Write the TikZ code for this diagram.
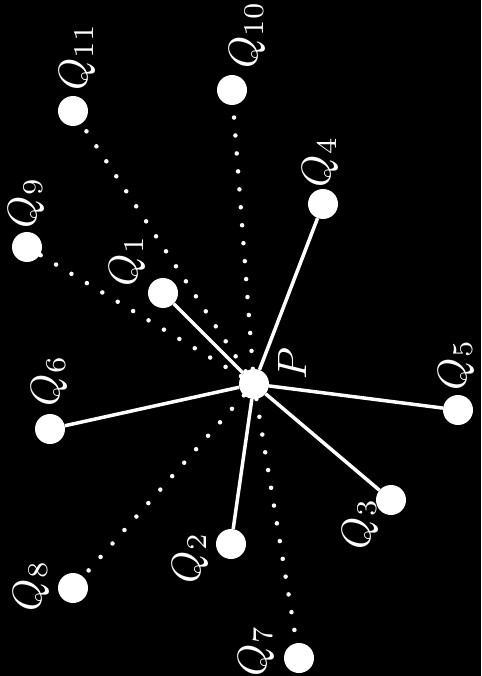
\documentclass[tikz,border=0pt]{standalone}
\pgfdeclarelayer{bg}
\pgfdeclarelayer{edges}
\pgfsetlayers{bg,edges,main}
\begin{document}
\begin{tikzpicture}[x=1pt,y=-1pt,
	dot/.style={circle,fill=white,inner sep=0pt,minimum size=30pt},
	solidedge/.style={white,line width=3.5pt},
	dottededge/.style={white,line width=4.5pt,line cap=round,dash pattern=on 0pt off 18pt},
	lab/.style={white,rotate=90,inner sep=0pt,scale=4.1}]
		%Background
		\begin{pgfonlayer}{bg}
			\fill[black] (0,0) rectangle (481,676);
		\end{pgfonlayer}
		\useasboundingbox (0,0) rectangle (481,676);
		%The centre point
		\node [dot] (P) at (254,384) {};
		%The points around it
		\node [dot] (Q1) at (163,293) {};
		\node [dot] (Q2) at (231,544) {};
		\node [dot] (Q3) at (391,500) {};
		\node [dot] (Q4) at (323,204) {};
		\node [dot] (Q5) at (458,410) {};
		\node [dot] (Q6) at (50,429) {};
		\node [dot] (Q7) at (299,658) {};
		\node [dot] (Q8) at (73,588) {};
		\node [dot] (Q9) at (27,247) {};
		\node [dot] (Q10) at (232,90) {};
		\node [dot] (Q11) at (73,111) {};
		\begin{pgfonlayer}{edges}
			%Solid lines
			\foreach \i in {1,...,6} {
				\draw [solidedge] (P) -- (Q\i);
			}
			%Dotted lines
			\foreach \i in {7,...,11} {
				\draw [dottededge] (P) -- (Q\i);
			}
		\end{pgfonlayer}
		%Labels
		\node [lab] (labP) at (292,363) {$P$};
		\node [lab] (lab1) at (127,261) {$Q_1$};
		\node [lab] (lab2) at (190,558) {$Q_2$};
		\node [lab] (lab3) at (360,524) {$Q_3$};
		\node [lab] (lab4) at (320,162) {$Q_4$};
		\node [lab] (lab5) at (456,365) {$Q_5$};
		\node [lab] (lab6) at (49,381) {$Q_6$};
		\node [lab] (lab7) at (256,651) {$Q_7$};
		\node [lab] (lab8) at (31,586) {$Q_8$};
		\node [lab] (lab9) at (26,203) {$Q_9$};
		\node [lab] (lab10) at (247,35) {$Q_{10}$};
		\node [lab] (lab11) at (77,57) {$Q_{11}$};
\end{tikzpicture}
\end{document}
